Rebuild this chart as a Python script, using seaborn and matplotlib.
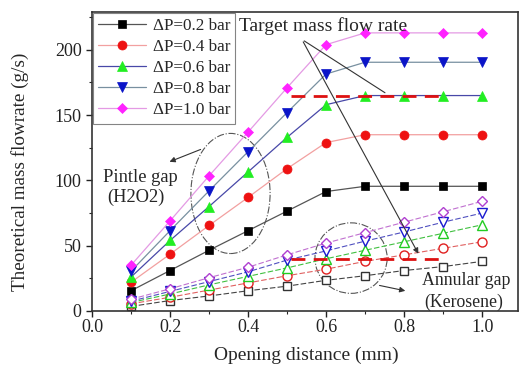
import numpy as np
import pandas as pd
import matplotlib.pyplot as plt
import seaborn as sns
from matplotlib.patches import Ellipse
from matplotlib.ticker import MultipleLocator

# --- values ---
opening = [0.1, 0.2, 0.3, 0.4, 0.5, 0.6, 0.7, 0.8, 0.9, 1.0]
pressures = ['0.2', '0.4', '0.6', '0.8', '1.0']

# pintle gap (H2O2), filled markers
pintle_02 = [15.5, 31, 46.5, 61.5, 76.5, 91.5, 95.5, 95.5, 95.5, 95.5]
pintle_04 = [22, 43.5, 65.5, 87, 109, 129, 135, 135, 135, 135]
pintle_06 = [26, 54, 80, 106.5, 133, 158, 165, 165, 165, 165]
pintle_08 = [30.5, 61.5, 92, 122, 152, 181.5, 190.5, 190.5, 190.5, 190.5]
pintle_10 = [35, 69, 103.5, 137, 171, 204, 213, 213, 213, 213]

# annular gap (Kerosene), open markers
annular_02 = [3.5, 8, 11.5, 15.5, 19, 23.5, 27, 31, 34, 38]
annular_04 = [5.5, 10.5, 16, 21.5, 27, 32, 38, 43, 48, 53]
annular_06 = [6.5, 13, 20, 26.5, 33, 40, 46.5, 53, 59.5, 66]
annular_08 = [7.5, 15, 22.5, 30, 39, 46, 53.5, 60.5, 68, 75]
annular_10 = [9, 17, 25.5, 33.5, 43, 52, 60, 68, 76, 84]

# target mass flow rates (dashed red)
target_x = [0.51, 0.89]
target_pintle = 165
target_annular = 40

pintle = [pintle_02, pintle_04, pintle_06, pintle_08, pintle_10]
annular = [annular_02, annular_04, annular_06, annular_08, annular_10]

markers = ['s', 'o', '^', 'v', 'D']
marker_sizes = [5.5, 6.5, 6.5, 6.5, 5.5]
face_colors = ['#000000', '#ee1111', '#22ee22', '#0a14c8', '#ff22ff']
pintle_line_colors = ['#555555', '#f2a0a0', '#4848a8', '#7890a0', '#e49ae4']
open_edge_colors = ['#333333', '#e02020', '#22cc22', '#1a1ad0', '#b040d0']
annular_line_colors = ['#444444', '#e06060', '#40c040', '#5050c0', '#c070d0']

sns.set_style('ticks')
plt.rcParams['font.family'] = ['Liberation Serif', 'DejaVu Serif']
plt.rcParams['mathtext.fontset'] = 'stix'

fig = plt.figure(figsize=(5.19, 3.70), dpi=100)
ax = fig.add_axes([0.1773, 0.1595, 0.8208, 0.8081])

for i, p in enumerate(pressures):
    sns.lineplot(x=opening, y=pintle[i], ax=ax, color=pintle_line_colors[i],
                 linewidth=0.9, marker=markers[i], markersize=marker_sizes[i],
                 markerfacecolor=face_colors[i], markeredgecolor=face_colors[i],
                 markeredgewidth=0.5, label='\u0394P=%s bar' % p)

for i, p in enumerate(pressures):
    sns.lineplot(x=opening, y=annular[i], ax=ax, color=annular_line_colors[i],
                 linewidth=0.8, linestyle=(0, (5, 2)), marker=markers[i],
                 markersize=marker_sizes[i], markerfacecolor='white',
                 markeredgecolor=open_edge_colors[i], markeredgewidth=1.0,
                 legend=False)

# target lines
for t in [target_pintle, target_annular]:
    sns.lineplot(x=target_x, y=[t, t], ax=ax, color='#dd1111', linewidth=2.0,
                 linestyle=(0, (5, 3)), legend=False)

# ellipses around the two groups
ax.add_patch(Ellipse((0.355, 90), 0.203, 92, fill=False, edgecolor='#555555',
                     linewidth=0.8, linestyle='-.'))
ax.add_patch(Ellipse((0.664, 40.5), 0.185, 54, fill=False, edgecolor='#555555',
                     linewidth=0.8, linestyle='-.'))

arrow = dict(arrowstyle='-|>', color='#333333', linewidth=0.8, mutation_scale=8)
ax.annotate('', xy=(0.192, 113.5), xytext=(0.285, 124.5), arrowprops=arrow)
ax.annotate('', xy=(0.81, 15), xytext=(0.73, 20), arrowprops=arrow)
ax.annotate('', xy=(0.757, 166), xytext=(0.538, 208),
            arrowprops=dict(arrowstyle='-', color='#333333', linewidth=0.8))
ax.annotate('', xy=(0.84, 42), xytext=(0.538, 208), arrowprops=arrow)

ax.text(0.592, 218, 'Target mass flow rate', ha='center', va='center', fontsize=14)
ax.text(0.123, 102.5, 'Pintle gap', ha='center', va='center', fontsize=13.3)
ax.text(0.112, 87, '(H2O2)', ha='center', va='center', fontsize=13.3)
ax.text(0.96, 23.5, 'Annular gap', ha='center', va='center', fontsize=12.8)
ax.text(0.954, 7, '(Kerosene)', ha='center', va='center', fontsize=12.8)

ax.set_xlim(0, 1.092)
ax.set_ylim(0, 229)
ax.xaxis.set_major_locator(MultipleLocator(0.2))
ax.xaxis.set_minor_locator(MultipleLocator(0.1))
ax.yaxis.set_major_locator(MultipleLocator(50))
ax.yaxis.set_minor_locator(MultipleLocator(25))
ax.xaxis.set_major_formatter(plt.FuncFormatter(lambda v, _: '%.1f' % v))
ax.tick_params(axis='both', which='major', labelsize=13, length=4, width=1.0,
               direction='out', colors='#222222')
ax.tick_params(axis='x', which='major', pad=1.5)
ax.tick_params(axis='both', which='minor', length=2.5, width=0.8, direction='out')
for s in ax.spines.values():
    s.set_visible(True)
    s.set_linewidth(1.2)
    s.set_color('#333333')

ax.set_xlabel('Opening distance (mm)', fontsize=14)
ax.set_ylabel('Theoretical mass flowrate (g/s)', fontsize=13.8)
ax.xaxis.set_label_coords(0.5035, -0.147)
ax.xaxis.label.set_va('center')
ax.yaxis.set_label_coords(-0.169, 0.465)
ax.yaxis.label.set_va('center')

leg = ax.legend(loc='upper left', bbox_to_anchor=(0.0, 1.0), fontsize=12.3,
                frameon=True, fancybox=False, borderaxespad=0.05,
                handlelength=2.8, handletextpad=0.4, labelspacing=0.3,
                borderpad=0.3)
leg.get_frame().set_edgecolor('#666666')
leg.get_frame().set_linewidth(0.8)

fig.savefig('out.png', dpi=100)
